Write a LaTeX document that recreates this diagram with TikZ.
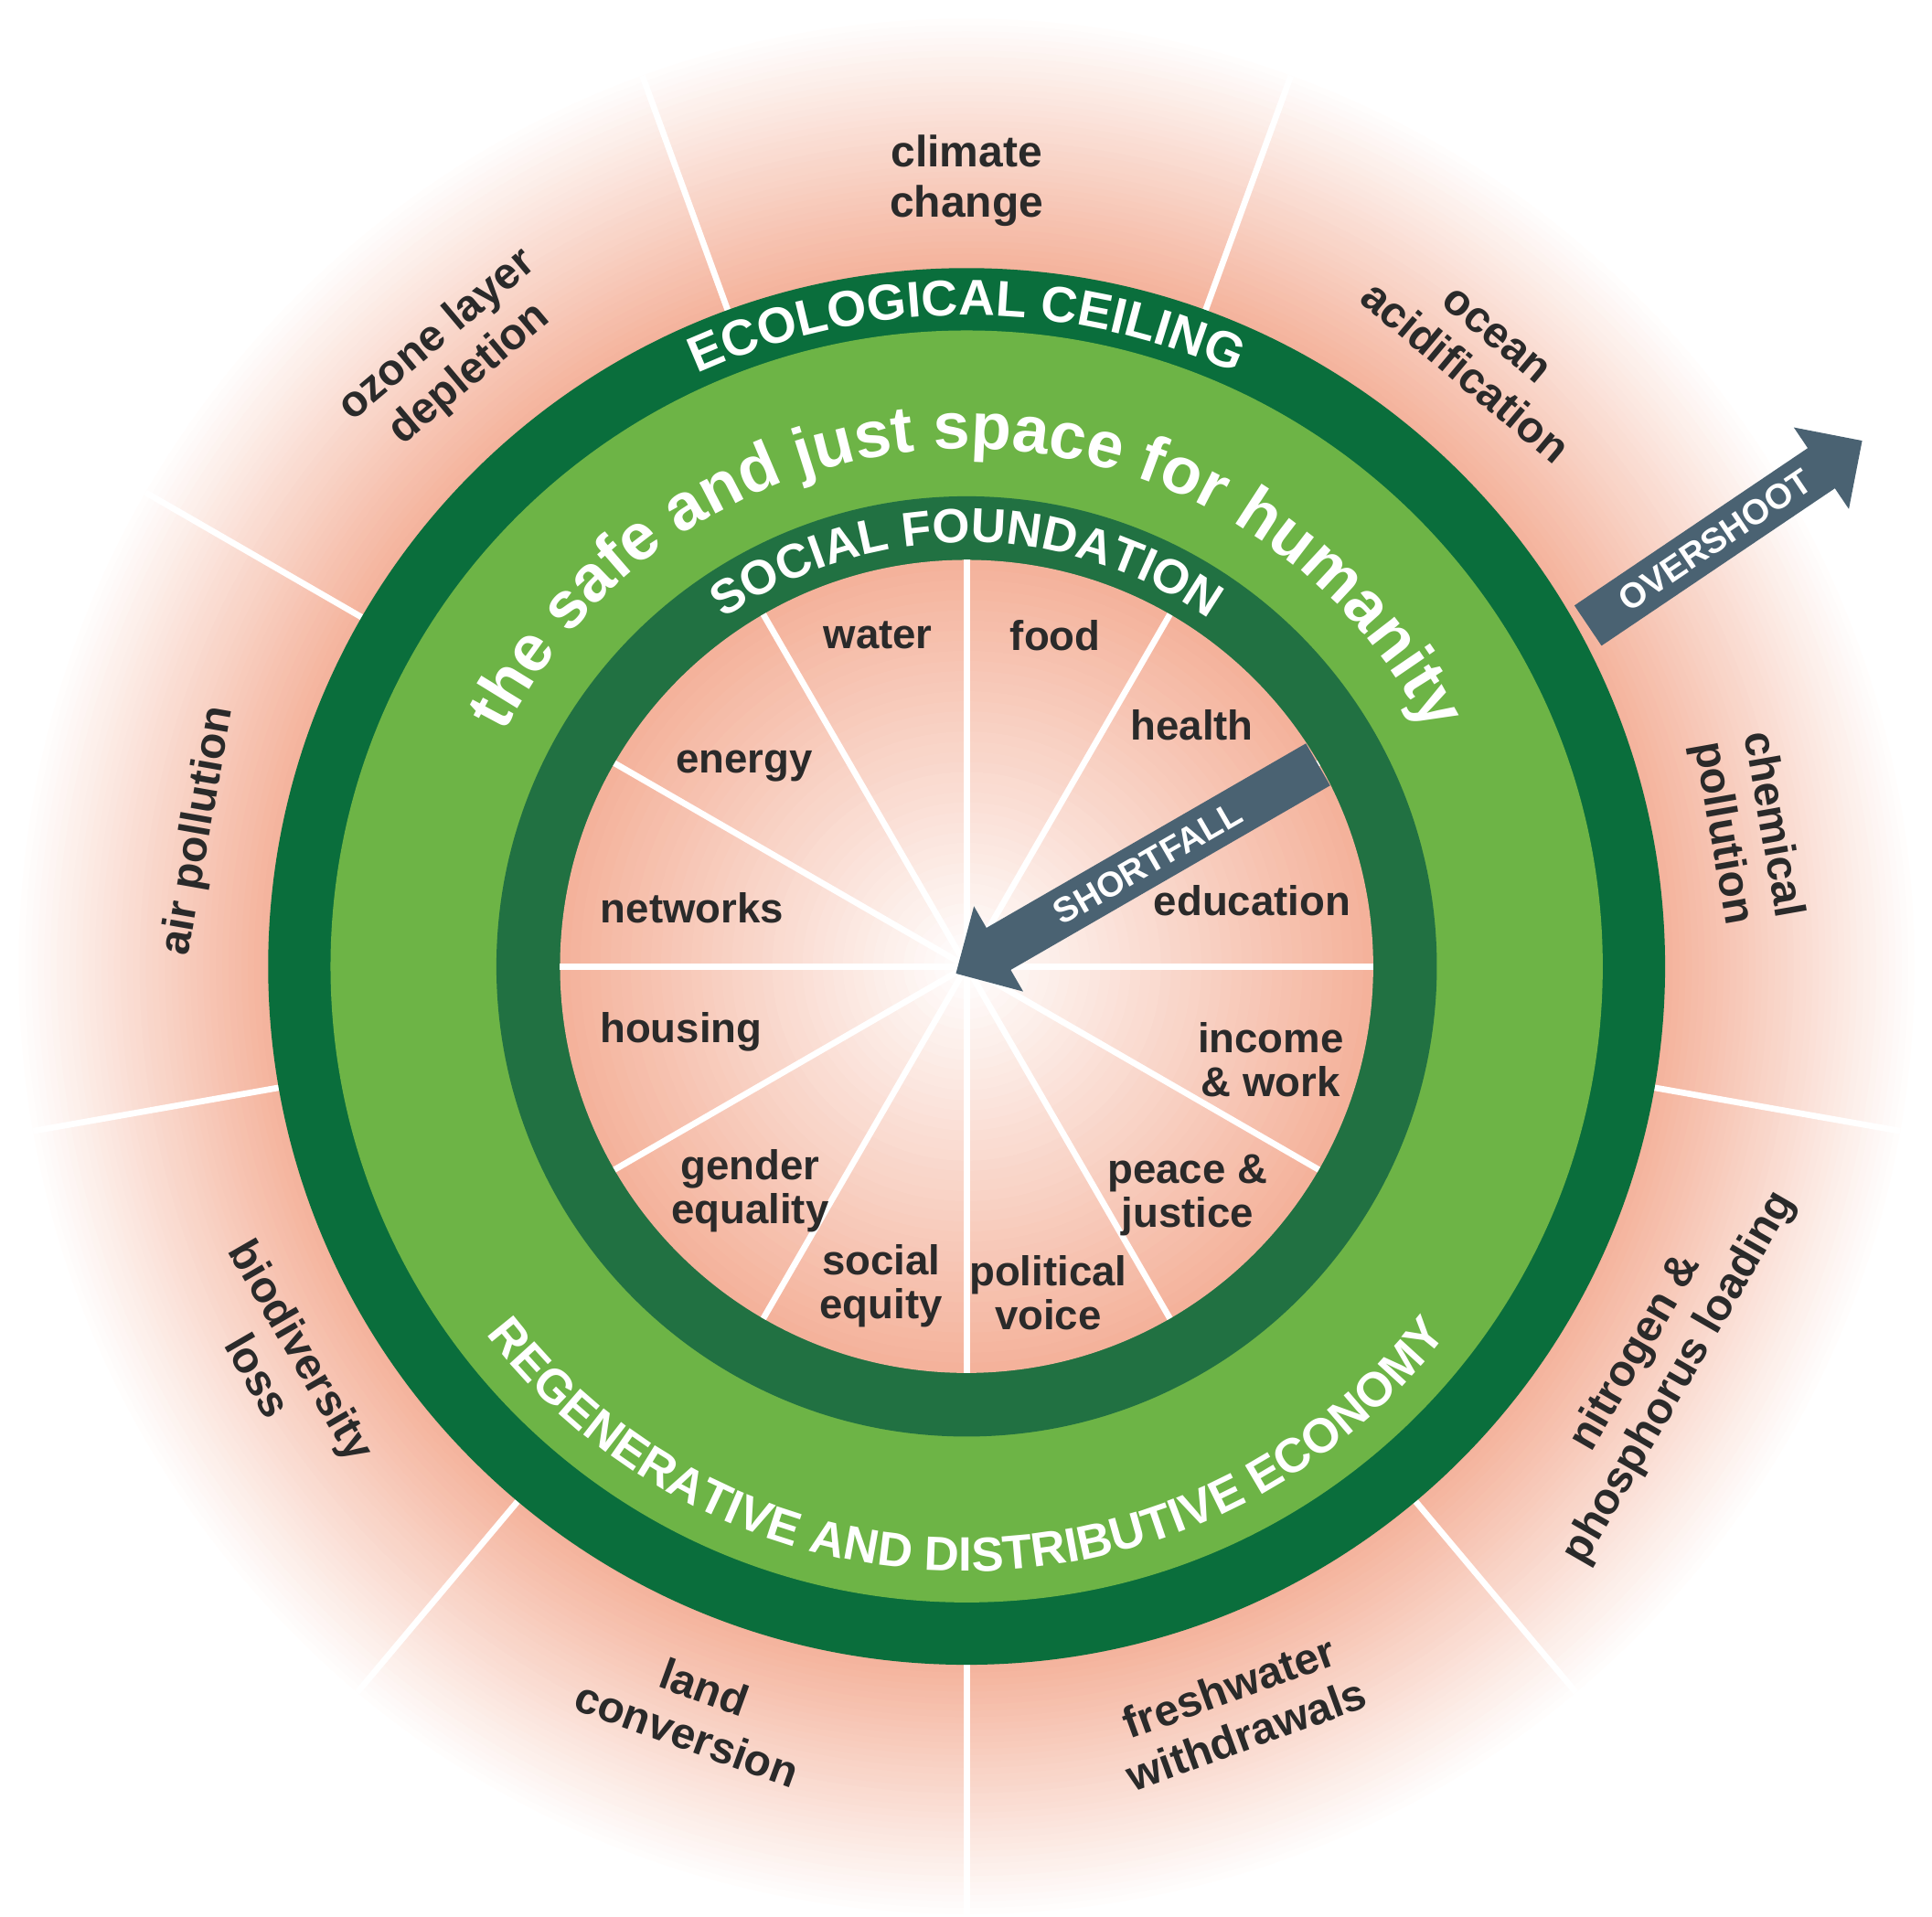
\documentclass[tikz,border=0pt]{standalone}
\usepackage{fontspec}
\setmainfont{Liberation Sans}
\usetikzlibrary{decorations.text,shapes.arrows}
\definecolor{pinkc}{HTML}{F4B29B}
\definecolor{darkg}{HTML}{0A6E3C}
\definecolor{lightg}{HTML}{6DB446}
\definecolor{midg}{HTML}{217142}
\definecolor{arrowc}{HTML}{4A6272}
\definecolor{txt}{HTML}{2A2A2A}
\tikzset{
 outlab/.style={font=\bfseries\fontsize{10}{11.5}\selectfont, text=txt, align=center},
 inlab/.style={font=\bfseries\fontsize{9.5}{10}\selectfont, text=txt, align=center},
 spoke/.style={white, line width=1.4pt},
 bigarrow/.style={single arrow, fill=arrowc, text=white, font=\bfseries\fontsize{8}{9}\selectfont,
   single arrow head extend=0.2cm, inner xsep=2pt, inner ysep=2.5pt, minimum height=#1},
}
\begin{document}
\begin{tikzpicture}[x=0.01cm,y=0.01cm]
\useasboundingbox (-775,-762) rectangle (774,775);
\foreach \i in {0,...,40}{
  \pgfmathsetmacro\r{765-\i*5.1}
  \pgfmathsetmacro\p{\i*2.5}
  \fill[pinkc!\p!white] (0,0) circle[radius=\r];
}
\foreach \a in {70,110,...,350} \draw[spoke] (\a:560) -- (\a:760);
\fill[darkg] (0,0) circle[radius=560];
\fill[lightg] (0,0) circle[radius=510];
\fill[midg] (0,0) circle[radius=377];
\foreach \i in {0,...,40}{
  \pgfmathsetmacro\r{326-\i*8.1}
  \pgfmathsetmacro\p{100-\i*2.5}
  \fill[pinkc!\p!white] (0,0) circle[radius=\r];
}
\foreach \a in {0,30,...,330} \draw[spoke] (0,0) -- (\a:326);
\path[decorate,decoration={text along path,text align=center,text color=white,
  text={|\bfseries\fontsize{11.5}{13}\selectfont|ECOLOGICAL CEILING}}]
  (150:522) arc[start angle=150,end angle=30,radius=522];
\path[decorate,decoration={text along path,text align=center,text color=white,
  text={|\bfseries\fontsize{15}{16}\selectfont|the safe and just space for humanity}}]
  (175:415) arc[start angle=175,end angle=5,radius=415];
\path[decorate,decoration={text along path,text align=center,text color=white,
  text={|\bfseries\fontsize{11}{13}\selectfont|SOCIAL FOUNDATION}}]
  (150:340) arc[start angle=150,end angle=30,radius=340];
\path[decorate,decoration={text along path,text align=center,text color=white,
  text={|\bfseries\fontsize{11}{13}\selectfont|REGENERATIVE AND DISTRIBUTIVE ECONOMY}}]
  (190:485) arc[start angle=190,end angle=350,radius=485];
\node[outlab] (cc) at (90:630) {climate\\change};
\node[outlab,rotate=40] (oz) at (130:640) {ozone layer\\depletion};
\node[outlab,rotate=80] (ap) at (170:625) {air pollution};
\node[outlab,rotate=-60] (bl) at (210:635) {biodiversity\\loss};
\node[outlab,rotate=-20] (lc) at (250:635) {land\\conversion};
\node[outlab,rotate=20] (fw) at (290:635) {freshwater\\withdrawals};
\node[outlab,rotate=60] (np) at (330:640) {nitrogen \&\\phosphorus loading};
\node[outlab,rotate=-80] (cp) at (10:635) {chemical\\pollution};
\node[outlab,rotate=-40] (oa) at (50:640) {ocean\\acidification};
\node[inlab] (food) at (75:275) {food};
\node[inlab] (water) at (105:275) {water};
\node[inlab] (energy) at (138:240) {energy};
\node[inlab] (networks) at (168:225) {networks};
\node[inlab] (housing) at (193:235) {housing};
\node[inlab] (gender) at (226:250) {gender\\equality};
\node[inlab] (soceq) at (255:265) {social\\equity};
\node[inlab] (polv) at (284:270) {political\\voice};
\node[inlab] (peace) at (314:255) {peace \&\\justice};
\node[inlab] (income) at (343:255) {income\\\& work};
\node[inlab] (edu) at (13:235) {education};
\node[inlab] (health) at (47:265) {health};
\node[bigarrow=2.65cm,rotate=34] (over) at (600,342) {OVERSHOOT};
\node[bigarrow=3.35cm,shape border rotate=180,rotate=30] (short) at (145,83) {SHORTFALL};
\end{tikzpicture}
\end{document}
